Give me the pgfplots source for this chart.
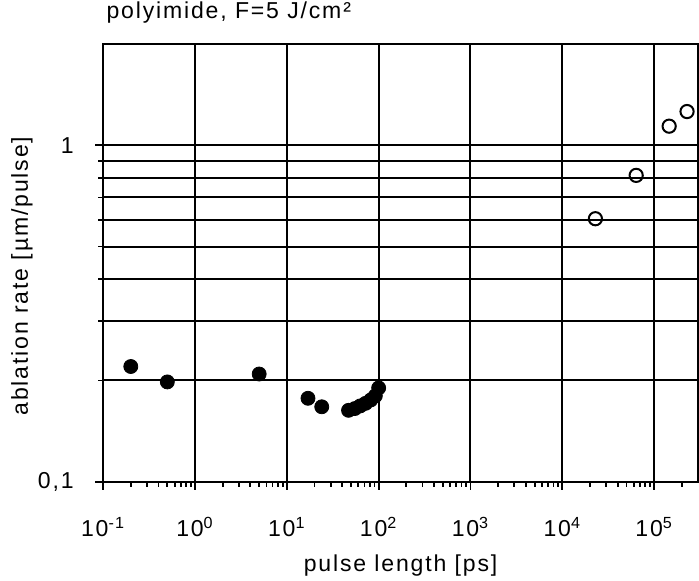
\documentclass[border=0pt]{standalone}
\usepackage{fontspec}
\setmainfont{Liberation Sans}[LetterSpace=8]
\usepackage{pgfplots}
\pgfplotsset{compat=1.18}
\begin{document}
\fontsize{11.5}{13}\selectfont
\begin{tikzpicture}
\useasboundingbox (-51.5pt,-49.5pt) rectangle (297.5pt,240.5pt);
\begin{axis}[
  at={(0,0)}, anchor=south west,
  scale only axis, width=297pt, height=218.5pt,
  xmode=log, ymode=log,
  xmin=0.1, xmax=3e5, ymin=0.1, ymax=2,
  xtick={0.1,1,10,100,1000,10000,100000},
  xticklabels={10\textsuperscript{-1},10\textsuperscript{0},10\textsuperscript{1},10\textsuperscript{2},10\textsuperscript{3},10\textsuperscript{4},10\textsuperscript{5}},
  minor xtick={0.2,0.3,0.4,0.5,0.6,0.7,0.8,0.9,2,3,4,5,6,7,8,9,20,30,40,50,60,70,80,90,200,300,400,500,600,700,800,900,2000,3000,4000,5000,6000,7000,8000,9000,20000,30000,40000,50000,60000,70000,80000,90000,200000},
  ytick={0.1,1}, yticklabels={{0,1},1},
  minor ytick={0.2,0.3,0.4,0.5,0.6,0.7,0.8,0.9},
  xmajorgrids, ymajorgrids, yminorgrids,
  tick align=outside, xtick pos=left, ytick pos=left,
  major tick length=4pt, minor tick length=2.5pt,
  grid style={black, line width=1pt},
  major grid style={black, line width=1pt},
  minor grid style={black, line width=1pt},
  axis line style={black, line width=1.1pt},
  every tick/.style={black, line width=0.9pt},
  xticklabel style={anchor=base, inner sep=0pt, yshift=-23.5pt},
  yticklabel style={anchor=east, inner sep=0pt, xshift=-10.5pt},
  xlabel={pulse length [ps]},
  ylabel={ablation rate [µm/pulse]},
  xlabel style={at={(axis description cs:0.5,0)}, anchor=center, yshift=-42pt},
  ylabel style={at={(axis description cs:0,0.47)}, anchor=center, yshift=40.5pt},
  title={polyimide, F=5 J/cm²},
  title style={at={(axis description cs:0,1)}, anchor=base west, inner sep=0pt, xshift=1.5pt, yshift=7pt},
  clip=false,
]
\addplot[only marks, mark=*, mark size=3.5pt, mark options={fill=black, draw=black}] coordinates {
  (0.2,0.22) (0.5,0.198) (5,0.209) (17,0.177) (24,0.167)
  (47,0.163) (55,0.165) (63,0.168) (72,0.171) (82,0.175) (92,0.18) (100,0.19)
};
\addplot[only marks, mark=o, mark size=3.3pt, mark options={fill=white, draw=black, line width=1pt}] coordinates {
  (22900,0.605) (63700,0.814) (145600,1.14) (228000,1.26)
};
\end{axis}
\end{tikzpicture}
\end{document}
